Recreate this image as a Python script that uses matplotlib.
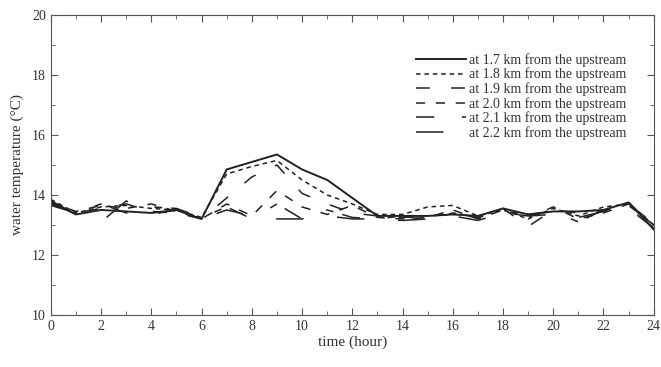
import numpy as np
import matplotlib.pyplot as plt
from matplotlib.ticker import MultipleLocator

plt.rcParams['font.family'] = ['Liberation Serif', 'DejaVu Serif']

# hourly water temperature (deg C) at six distances from the upstream
hours = np.arange(0, 25)
t_17 = [13.80, 13.35, 13.50, 13.45, 13.40, 13.50, 13.20, 14.85, 15.10, 15.35, 14.85, 14.50, 13.90,
        13.30, 13.30, 13.30, 13.35, 13.30, 13.55, 13.35, 13.45, 13.45, 13.50, 13.75, 12.85]
t_18 = [13.85, 13.40, 13.60, 13.65, 13.55, 13.50, 13.25, 14.70, 14.95, 15.15, 14.50, 14.00, 13.70,
        13.35, 13.35, 13.60, 13.65, 13.30, 13.50, 13.20, 13.55, 13.30, 13.60, 13.70, 13.00]
t_19 = [13.70, 13.40, 13.55, 13.70, 13.45, 13.40, 13.20, 13.90, 14.60, 15.00, 14.05, 13.70, 13.40,
        13.30, 13.25, 13.30, 13.35, 13.25, 13.55, 12.95, 13.50, 13.40, 13.45, 13.75, 12.95]
t_20 = [13.75, 13.45, 13.65, 13.55, 13.70, 13.45, 13.20, 13.70, 13.30, 14.15, 13.60, 13.35, 13.65,
        13.25, 13.20, 13.25, 13.50, 13.20, 13.50, 13.25, 13.60, 13.20, 13.40, 13.70, 13.05]
t_21 = [13.65, 13.40, 13.70, 13.40, 13.60, 13.55, 13.25, 13.60, 13.20, 13.70, 13.20, 13.50, 13.25,
        13.20, 13.30, 13.15, 13.40, 13.25, 13.45, 13.35, 13.45, 13.10, 13.50, 13.65, 13.00]
t_22 = [13.75, 13.35, 13.10, 13.80, 13.35, 13.50, 13.20, 13.50, 13.30, 13.20, 13.20, 13.30, 13.20,
        13.20, 13.15, 13.20, 13.30, 13.15, 13.40, 13.30, 13.35, 13.25, 13.45, 13.55, 12.90]

labels = ['at 1.7 km from the upstream', 'at 1.8 km from the upstream',
          'at 1.9 km from the upstream', 'at 2.0 km from the upstream',
          'at 2.1 km from the upstream', 'at 2.2 km from the upstream']
series = [t_17, t_18, t_19, t_20, t_21, t_22]
dashes = [None, (3, 2.5), (9, 14), (6, 7), (12, 18, 5, 6), (18, 22)]
widths = [1.4, 1.1, 1.1, 1.1, 1.1, 1.1]

fig = plt.figure(figsize=(6.61, 3.67), dpi=100)
ax = fig.add_axes([0.077, 0.142, 0.912, 0.817])

for vals, lab, d, lw in zip(series, labels, dashes, widths):
    if d is None:
        ax.plot(hours, vals, color='#222222', lw=lw, label=lab)
    else:
        ax.plot(hours, vals, color='#222222', lw=lw, dashes=d, label=lab)

ax.set_xlim(0, 24)
ax.set_ylim(10, 20)
ax.xaxis.set_major_locator(MultipleLocator(2))
ax.xaxis.set_minor_locator(MultipleLocator(1))
ax.yaxis.set_major_locator(MultipleLocator(2))
ax.yaxis.set_minor_locator(MultipleLocator(1))
ax.tick_params(which='both', direction='in', top=True, right=True, colors='#555555',
               labelcolor='#333333', labelsize=10)
ax.tick_params(which='major', length=5)
ax.tick_params(which='minor', length=3)
for sp in ax.spines.values():
    sp.set_color('#555555')

ax.set_xlabel('time (hour)', fontsize=11, color='#333333', labelpad=2)
ax.set_ylabel('water temperature (\u00b0C)', fontsize=11, color='#333333', labelpad=6)

leg = ax.legend(loc='upper left', bbox_to_anchor=(0.597, 0.892), frameon=False, fontsize=10,
                handlelength=3.6, handletextpad=0.22, labelspacing=0.06, borderaxespad=0)
for t in leg.get_texts():
    t.set_color('#333333')

fig.savefig('out.png', dpi=100)
